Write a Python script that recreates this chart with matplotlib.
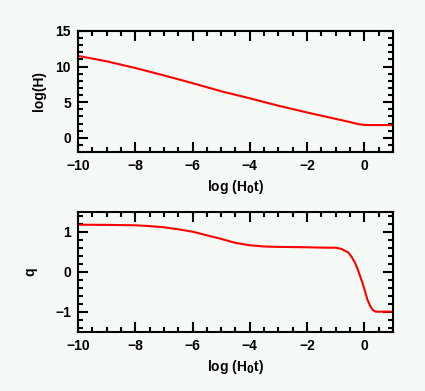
import matplotlib
matplotlib.use('Agg')
import matplotlib.pyplot as plt
from matplotlib.ticker import MultipleLocator

# values
logt_H = [-10, -9, -8, -7, -6, -5, -4, -3, -2, -1, -0.5, -0.2, 0, 0.3, 1]
logH = [11.5, 10.74, 9.8, 8.76, 7.67, 6.53, 5.54, 4.5, 3.55, 2.65, 2.2, 1.9, 1.8, 1.78, 1.78]

logt_q = [-10, -9, -8, -7.5, -7, -6.5, -6, -5.5, -5, -4.5, -4, -3.5, -3, -2, -1.3, -1.0,
          -0.8, -0.56, -0.45, -0.33, -0.24, -0.15, -0.06, 0.02, 0.1, 0.2, 0.3, 0.4, 1]
q = [1.175, 1.17, 1.16, 1.14, 1.11, 1.06, 1.0, 0.91, 0.82, 0.72, 0.66, 0.63, 0.62, 0.61, 0.6, 0.6,
     0.57, 0.48, 0.38, 0.23, 0.08, -0.1, -0.29, -0.47, -0.68, -0.85, -0.96, -1.0, -1.0]

bg = '#f5faf6'
plt.rcParams['font.family'] = 'Liberation Sans'
plt.rcParams['font.weight'] = 'bold'
plt.rcParams['mathtext.default'] = 'bf'

fig = plt.figure(figsize=(4.25, 3.91), dpi=100, facecolor=bg)
ax1 = fig.add_axes([0.1835, 0.6113, 0.741, 0.3095], facecolor=bg)
ax2 = fig.add_axes([0.1835, 0.1517, 0.741, 0.3069], facecolor=bg)


def style(ax, ymaj, ymin):
    ax.set_xlim(-10, 1)
    ax.xaxis.set_major_locator(MultipleLocator(2))
    ax.xaxis.set_minor_locator(MultipleLocator(0.5))
    ax.yaxis.set_major_locator(MultipleLocator(ymaj))
    ax.yaxis.set_minor_locator(MultipleLocator(ymin))
    ax.tick_params(which='both', direction='in', top=True, right=True, width=1.5,
                   labelsize=10, pad=5)
    ax.tick_params(which='major', length=7)
    ax.tick_params(which='minor', length=3.5)
    for s in ax.spines.values():
        s.set_linewidth(1.5)
    ax.set_xlabel(r'log (H$_0$t)', fontsize=10, fontweight='bold', labelpad=4)


ax1.plot(logt_H, logH, color='red', lw=1.5)
ax1.set_ylim(-2, 15)
style(ax1, 5, 1)
ax1.set_ylabel('log(H)', fontsize=10, fontweight='bold', labelpad=7)

ax2.plot(logt_q, q, color='red', lw=1.5)
ax2.set_ylim(-1.5, 1.5)
style(ax2, 1, 0.2)
ax2.set_ylabel('q', fontsize=10, fontweight='bold', labelpad=13)

fig.savefig('out.png', dpi=100, facecolor=bg)
